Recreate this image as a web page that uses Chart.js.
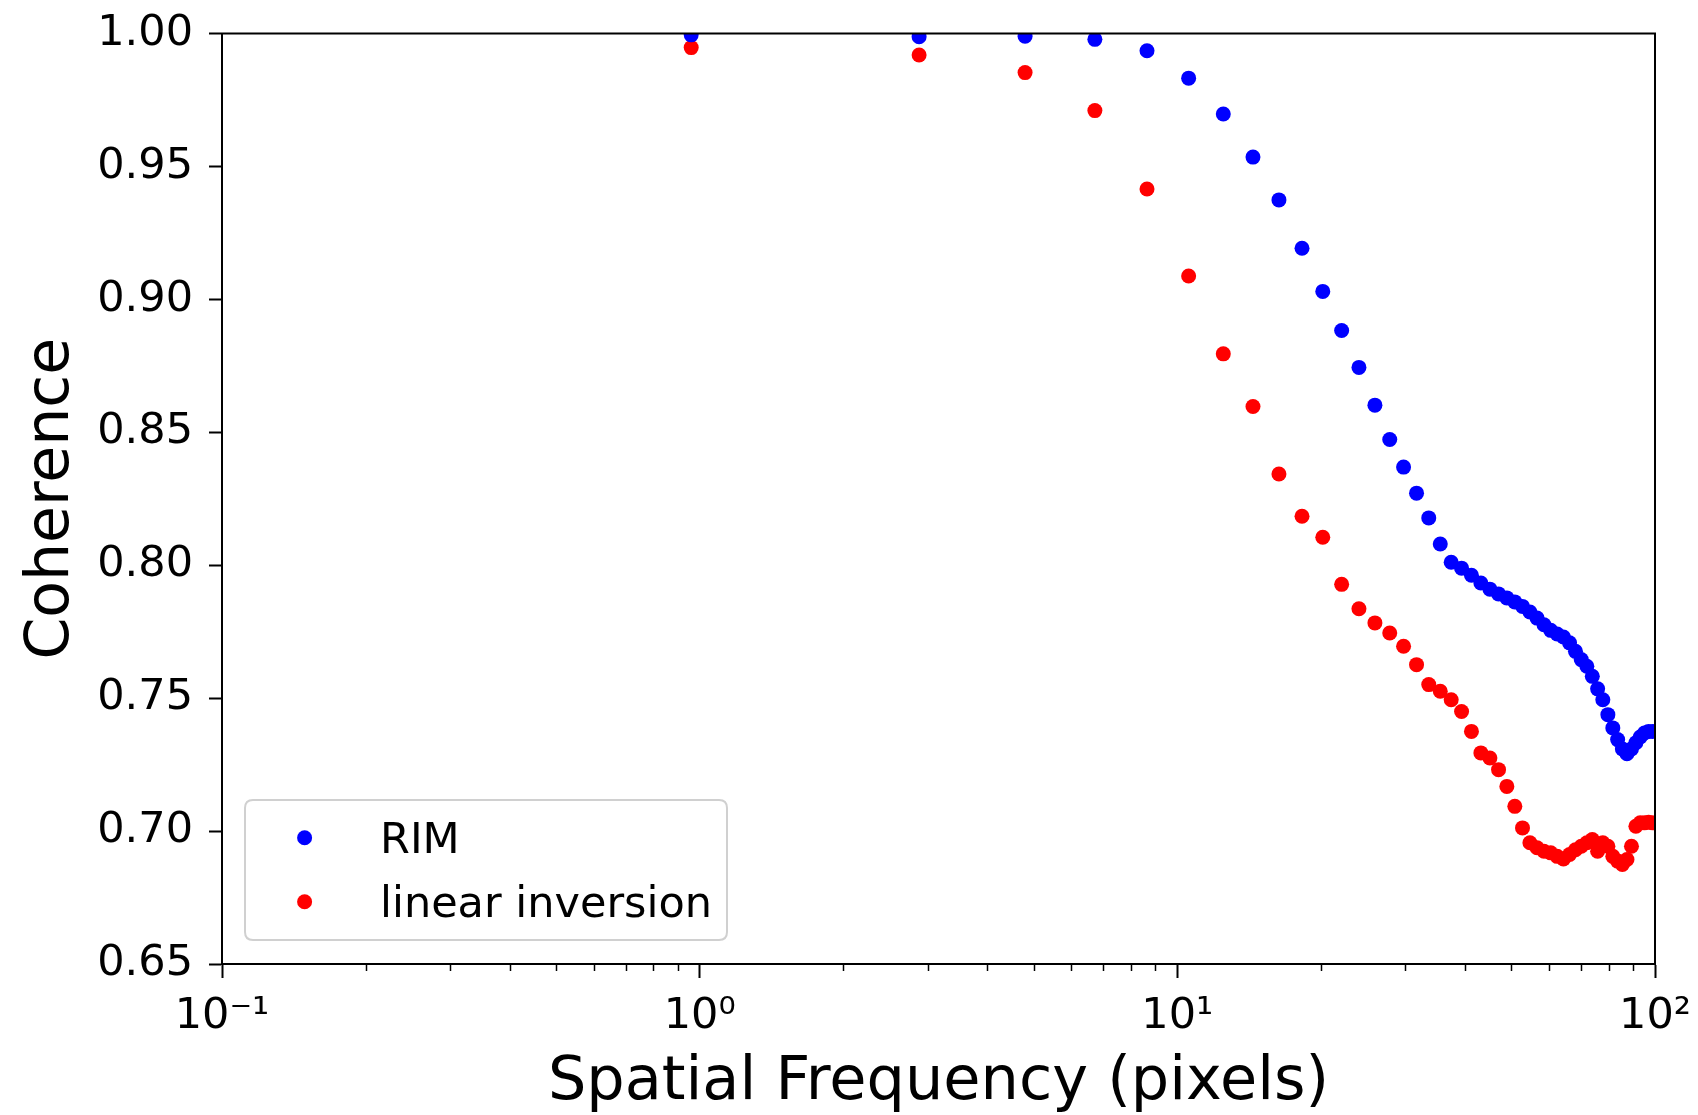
<!DOCTYPE html>
<html>
<head>
<meta charset="utf-8">
<script src="https://cdn.jsdelivr.net/npm/chart.js@4"></script>
<style>html,body{margin:0;padding:0;background:#fff}canvas{display:block}</style>
</head>
<body>
<canvas id="c" width="1698" height="1115"></canvas>
<script>
// ---- data ----
const freqPixels = [0.96, 2.88, 4.80, 6.72, 8.64, 10.56, 12.48, 14.40, 16.32, 18.24,
  20.16, 22.08, 24.00, 25.92, 27.84, 29.76, 31.68, 33.60, 35.52, 37.44,
  39.36, 41.28, 43.20, 45.12, 47.04, 48.96, 50.88, 52.80, 54.72, 56.64,
  58.56, 60.48, 62.40, 64.32, 66.24, 68.16, 70.08, 72.00, 73.92, 75.84,
  77.76, 79.68, 81.60, 83.52, 85.44, 87.36, 89.28, 91.20, 93.12, 95.04,
  96.96, 98.88];
const rimCoherence = [0.9995, 0.9988, 0.9990, 0.9978, 0.9935, 0.9832, 0.9697, 0.9535, 0.9374, 0.9192,
  0.9030, 0.8883, 0.8744, 0.8602, 0.8473, 0.8369, 0.8271, 0.8178, 0.8080, 0.8011,
  0.7989, 0.7962, 0.7933, 0.7910, 0.7892, 0.7877, 0.7862, 0.7845, 0.7824, 0.7801,
  0.7776, 0.7755, 0.7741, 0.7730, 0.7708, 0.7676, 0.7645, 0.7620, 0.7582, 0.7535,
  0.7494, 0.7438, 0.7388, 0.7344, 0.7309, 0.7291, 0.7309, 0.7332, 0.7354, 0.7369,
  0.7375, 0.7375];
const linearCoherence = [0.9947, 0.9919, 0.9853, 0.9710, 0.9415, 0.9088, 0.8795, 0.8597, 0.8343, 0.8184,
  0.8105, 0.7928, 0.7836, 0.7783, 0.7745, 0.7695, 0.7626, 0.7551, 0.7526, 0.7494,
  0.7450, 0.7375, 0.7294, 0.7275, 0.7231, 0.7168, 0.7093, 0.7012, 0.6956, 0.6937,
  0.6924, 0.6918, 0.6905, 0.6895, 0.6912, 0.6930, 0.6943, 0.6956, 0.6968, 0.6924,
  0.6956, 0.6943, 0.6905, 0.6887, 0.6874, 0.6893, 0.6943, 0.7018, 0.7031, 0.7031,
  0.7033, 0.7031];
const seriesLabels = ['RIM', 'linear inversion'];
const seriesColors = ['#0000ff', '#ff0000'];
const yTickValues = [0.65, 0.70, 0.75, 0.80, 0.85, 0.90, 0.95, 1.00];
const xMajorTicks = [0.1, 1, 10, 100];
const xMajorLabels = ['10\u207B\u00B9', '10\u2070', '10\u00B9', '10\u00B2'];
const xMinorTicks = [0.2, 0.3, 0.4, 0.5, 0.6, 0.7, 0.8, 0.9,
  2, 3, 4, 5, 6, 7, 8, 9,
  20, 30, 40, 50, 60, 70, 80, 90];
const xTitle = 'Spatial Frequency (pixels)';
const yTitle = 'Coherence';

const FONT = "'DejaVu Sans', sans-serif";

function toPoints(xs, ys) { return xs.map((x, i) => ({ x: x, y: ys[i] })); }

const decorPlugin = {
  id: 'decor',
  afterDraw(chart) {
    const ctx = chart.ctx;
    const a = chart.chartArea;
    const xs = chart.scales.x;
    ctx.save();
    // frame (top / right spines)
    ctx.strokeStyle = '#000';
    ctx.lineWidth = 2;
    ctx.strokeRect(a.left, a.top, a.right - a.left, a.bottom - a.top);
    // minor ticks on log axis
    ctx.lineWidth = 1.5;
    xMinorTicks.forEach(v => {
      const px = Math.round(xs.getPixelForValue(v)) + 0.5;
      ctx.beginPath();
      ctx.moveTo(px, a.bottom);
      ctx.lineTo(px, a.bottom + 7);
      ctx.stroke();
    });
    // legend (lower left, inside plot)
    const bx = 245, by = 800, bw = 482, bh = 140, r = 8;
    ctx.beginPath();
    ctx.moveTo(bx + r, by);
    ctx.lineTo(bx + bw - r, by);
    ctx.quadraticCurveTo(bx + bw, by, bx + bw, by + r);
    ctx.lineTo(bx + bw, by + bh - r);
    ctx.quadraticCurveTo(bx + bw, by + bh, bx + bw - r, by + bh);
    ctx.lineTo(bx + r, by + bh);
    ctx.quadraticCurveTo(bx, by + bh, bx, by + bh - r);
    ctx.lineTo(bx, by + r);
    ctx.quadraticCurveTo(bx, by, bx + r, by);
    ctx.closePath();
    ctx.fillStyle = 'rgba(255,255,255,0.8)';
    ctx.fill();
    ctx.strokeStyle = '#d0d0d0';
    ctx.lineWidth = 2;
    ctx.stroke();
    chart.data.datasets.forEach((ds, i) => {
      const cy = 837.7 + i * 64;
      ctx.beginPath();
      ctx.fillStyle = ds.pointBackgroundColor;
      ctx.arc(304.6, cy, 7.5, 0, Math.PI * 2);
      ctx.fill();
      ctx.fillStyle = '#000';
      ctx.font = '43px ' + FONT;
      ctx.textAlign = 'left';
      ctx.textBaseline = 'alphabetic';
      ctx.fillText(ds.label, 380, cy + 15.5);
    });
    ctx.restore();
  }
};

new Chart(document.getElementById('c'), {
  type: 'scatter',
  data: {
    datasets: [
      { label: seriesLabels[0], data: toPoints(freqPixels, rimCoherence),
        pointBackgroundColor: seriesColors[0], pointBorderWidth: 0, pointRadius: 7.5,
        showLine: false, clip: 0 },
      { label: seriesLabels[1], data: toPoints(freqPixels, linearCoherence),
        pointBackgroundColor: seriesColors[1], pointBorderWidth: 0, pointRadius: 7.5,
        showLine: false, clip: 0 }
    ]
  },
  options: {
    responsive: false,
    animation: false,
    devicePixelRatio: 1,
    layout: { padding: { left: 0, right: 43, top: 33.5, bottom: 0 } },
    plugins: { legend: { display: false }, tooltip: { enabled: false } },
    scales: {
      x: {
        type: 'logarithmic', position: 'bottom', min: 0.1, max: 100,
        afterBuildTicks: s => { s.ticks = xMajorTicks.map(v => ({ value: v, major: true })); },
        afterFit: s => { s.height = 151; s.paddingLeft = 0; s.paddingRight = 0; },
        ticks: {
          autoSkip: false, maxRotation: 0, minRotation: 0, padding: 13, color: '#000',
          font: { family: FONT, size: 43 },
          callback: v => { const i = xMajorTicks.indexOf(v); return i >= 0 ? xMajorLabels[i] : ''; }
        },
        grid: { drawOnChartArea: false, drawTicks: true, tickLength: 14, tickWidth: 2, tickColor: '#000' },
        border: { display: true, color: '#000', width: 2 },
        title: { display: true, text: xTitle, color: '#000',
          font: { family: FONT, size: 60.5, lineHeight: 1 }, padding: { top: 0, bottom: 1 } }
      },
      y: {
        type: 'linear', position: 'left', min: 0.65, max: 1.0,
        afterBuildTicks: s => { s.ticks = yTickValues.map(v => ({ value: v })); },
        afterFit: s => { s.width = 222; s.paddingTop = 0; s.paddingBottom = 0; },
        ticks: {
          padding: 16, color: '#000', font: { family: FONT, size: 43 },
          callback: v => Number(v).toFixed(2)
        },
        grid: { drawOnChartArea: false, drawTicks: true, tickLength: 13, tickWidth: 2, tickColor: '#000' },
        border: { display: true, color: '#000', width: 2 },
        title: { display: true, text: yTitle, color: '#000',
          font: { family: FONT, size: 60, lineHeight: 1 }, padding: { top: 22, bottom: 0 } }
      }
    }
  },
  plugins: [decorPlugin]
});
</script>
</body>
</html>
